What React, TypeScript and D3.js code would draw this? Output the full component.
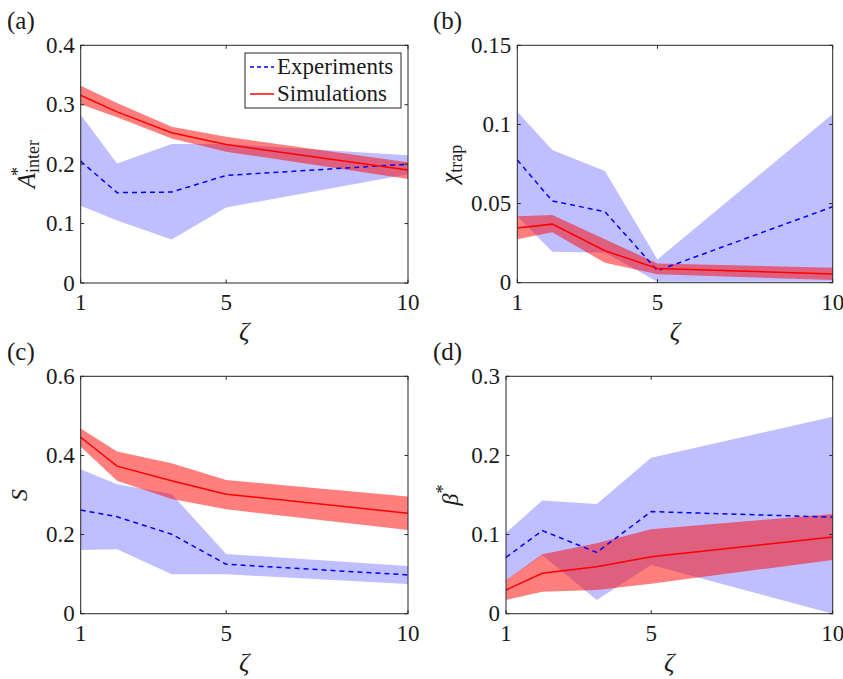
import React, { useEffect, useRef } from "react";
import * as d3 from "d3";

// zeta values sampled in the experiments / simulations
const zeta = [1, 2, 3.5, 5, 10];
const xTicks = [1, 5, 10];

// (a) A*_inter
const aExp = [0.205, 0.152, 0.153, 0.181, 0.2];
const aExpLo = [0.13, 0.105, 0.073, 0.127, 0.183];
const aExpHi = [0.283, 0.201, 0.234, 0.234, 0.215];
const aSim = [0.316, 0.288, 0.253, 0.233, 0.19];
const aSimLo = [0.301, 0.279, 0.243, 0.221, 0.175];
const aSimHi = [0.332, 0.303, 0.263, 0.246, 0.203];
const aTicks = [0, 0.1, 0.2, 0.3, 0.4];

// (b) chi_trap
const bExp = [0.0775, 0.0516, 0.0449, 0.0076, 0.048];
const bExpLo = [0.042, 0.0196, 0.019, 0.0006, 0.0006];
const bExpHi = [0.108, 0.0838, 0.0706, 0.0147, 0.1066];
const bSim = [0.0346, 0.037, 0.0202, 0.009, 0.0055];
const bSimLo = [0.0274, 0.0318, 0.0126, 0.0053, 0.0017];
const bSimHi = [0.042, 0.0428, 0.0274, 0.0122, 0.0095];
const bTicks = [0, 0.05, 0.1, 0.15];

// (c) S
const cExp = [0.262, 0.245, 0.201, 0.125, 0.098];
const cExpLo = [0.161, 0.163, 0.1, 0.0995, 0.075];
const cExpHi = [0.365, 0.327, 0.3025, 0.151, 0.1205];
const cSim = [0.446, 0.373, 0.336, 0.302, 0.254];
const cSimLo = [0.422, 0.336, 0.29, 0.264, 0.2115];
const cSimHi = [0.468, 0.41, 0.38, 0.338, 0.296];
const cTicks = [0, 0.2, 0.4, 0.6];

// (d) beta*
const dExp = [0.0712, 0.105, 0.0775, 0.129, 0.122];
const dExpLo = [0.042, 0.074, 0.0173, 0.0615, 0.0];
const dExpHi = [0.1024, 0.143, 0.1386, 0.197, 0.249];
const dSim = [0.03, 0.051, 0.0594, 0.072, 0.097];
const dSimLo = [0.0173, 0.0278, 0.03, 0.038, 0.068];
const dSimHi = [0.0425, 0.075, 0.089, 0.1066, 0.126];
const dTicks = [0, 0.1, 0.2, 0.3];

const FONT = "Liberation Serif";
const serif = { fontFamily: FONT };
const AXC = "#262626";
const TXT = "#1a1a1a";

type PanelProps = {
  box: [number, number, number, number]; // left, right, top, bottom
  yTicks: number[];
  exp: number[];
  expLo: number[];
  expHi: number[];
  sim: number[];
  simLo: number[];
  simHi: number[];
  tag: string;
  tagX: number;
  ylabel: React.ReactNode;
  ylabelX: number;
  legend?: boolean;
};

const Panel = ({ box, yTicks, exp, expLo, expHi, sim, simLo, simHi, tag, tagX, ylabel, ylabelX, legend }: PanelProps) => {
  const [l, r, t, b] = box;
  const x = d3.scaleLinear().domain([1, 10]).range([l, r]);
  const y = d3.scaleLinear().domain([0, d3.max(yTicks)!]).range([b, t]);
  const area = (lo: number[], hi: number[]) =>
    d3
      .area<number>()
      .x((_, i) => x(zeta[i]))
      .y0((_, i) => y(lo[i]))
      .y1((_, i) => y(hi[i]))(zeta)!;
  const line = (v: number[]) =>
    d3
      .line<number>()
      .x((_, i) => x(zeta[i]))
      .y((_, i) => y(v[i]))(zeta)!;
  const fmt = d3.format("~g");
  const tl = 3.5;

  return (
    <g>
      <text x={tagX} y={t - 16} fontSize={25} style={serif} fill={TXT}>{tag}</text>
      <path d={area(expLo, expHi)} fill="#0000ff" fillOpacity={0.25} />
      <path d={area(simLo, simHi)} fill="#ff0000" fillOpacity={0.5} />
      <path d={line(exp)} fill="none" stroke="#0000ff" strokeWidth={1.5} strokeDasharray="5,4" />
      <path d={line(sim)} fill="none" stroke="#ff0000" strokeWidth={1.5} />
      <rect x={l} y={t} width={r - l} height={b - t} fill="none" stroke={AXC} strokeWidth={1} />
      {yTicks.map((v) => (
        <g key={"y" + v}>
          <line x1={l} x2={l + tl} y1={y(v)} y2={y(v)} stroke={AXC} />
          <line x1={r} x2={r - tl} y1={y(v)} y2={y(v)} stroke={AXC} />
          <text x={l - 6} y={y(v)} dy="0.33em" textAnchor="end" fontSize={23} style={serif} fill={TXT}>
            {fmt(v)}
          </text>
        </g>
      ))}
      {xTicks.map((v) => (
        <g key={"x" + v}>
          <line x1={x(v)} x2={x(v)} y1={b} y2={b - tl} stroke={AXC} />
          <line x1={x(v)} x2={x(v)} y1={t} y2={t + tl} stroke={AXC} />
          <text x={x(v)} y={b + 27} textAnchor="middle" fontSize={23} style={serif} fill={TXT}>
            {String(v)}
          </text>
        </g>
      ))}
      <text x={(l + r) / 2} y={b + 57} textAnchor="middle" fontSize={26} fontStyle="italic" style={serif} fill={TXT}>
        ζ
      </text>
      <text
        transform={`translate(${ylabelX},${(t + b) / 2}) rotate(-90)`}
        textAnchor="middle"
        fontSize={24}
        style={serif}
        fill={TXT}
      >
        {ylabel}
      </text>
      {legend && (
        <g>
          <rect x={245} y={53} width={156} height={55} fill="#fff" stroke={AXC} strokeWidth={1} />
          <line x1={250} x2={274} y1={67} y2={67} stroke="#0000ff" strokeWidth={1.5} strokeDasharray="4,3" />
          <line x1={250} x2={274} y1={94} y2={94} stroke="#ff0000" strokeWidth={1.5} />
          <text x={277} y={74} fontSize={23} style={serif} fill={TXT}>Experiments</text>
          <text x={277} y={101} fontSize={23} style={serif} fill={TXT}>Simulations</text>
        </g>
      )}
    </g>
  );
};

export default function App() {
  const svgRef = useRef<SVGSVGElement>(null);

  useEffect(() => {
    // make sure every label uses the serif face
    d3.select(svgRef.current).selectAll("text, tspan").attr("font-family", FONT).style("font-family", FONT);
  }, []);

  return (
    <svg ref={svgRef} width={843} height={679} style={{ position: "absolute", left: 0, top: 0, background: "#fff" }}>
      <Panel
        box={[80.7, 408, 45.3, 283]}
        yTicks={aTicks}
        exp={aExp} expLo={aExpLo} expHi={aExpHi}
        sim={aSim} simLo={aSimLo} simHi={aSimHi}
        tag="(a)"
        tagX={7}
        ylabelX={35}
        legend
        ylabel={
          <>
            <tspan fontStyle="italic" fontSize={25}>A</tspan>
            <tspan fontSize={18} dy={4}>inter</tspan>
            <tspan fontSize={18} dx={-36} dy={-15}>*</tspan>
          </>
        }
      />
      <Panel
        box={[517.3, 832.7, 45.3, 282.7]}
        yTicks={bTicks}
        exp={bExp} expLo={bExpLo} expHi={bExpHi}
        sim={bSim} simLo={bSimLo} simHi={bSimHi}
        tag="(b)"
        tagX={433}
        ylabelX={457}
        ylabel={
          <>
            <tspan fontStyle="italic">χ</tspan>
            <tspan fontSize={18} dy={5}>trap</tspan>
          </>
        }
      />
      <Panel
        box={[80.7, 408, 376.3, 613.7]}
        yTicks={cTicks}
        exp={cExp} expLo={cExpLo} expHi={cExpHi}
        sim={cSim} simLo={cSimLo} simHi={cSimHi}
        tag="(c)"
        tagX={7}
        ylabelX={27}
        ylabel={<tspan fontStyle="italic">S</tspan>}
      />
      <Panel
        box={[506, 832.7, 376.3, 613.7]}
        yTicks={dTicks}
        exp={dExp} expLo={dExpLo} expHi={dExpHi}
        sim={dSim} simLo={dSimLo} simHi={dSimHi}
        tag="(d)"
        tagX={433}
        ylabelX={458}
        ylabel={
          <>
            <tspan fontStyle="italic">β</tspan>
            <tspan fontSize={18} dy={-9}>*</tspan>
          </>
        }
      />
    </svg>
  );
}
